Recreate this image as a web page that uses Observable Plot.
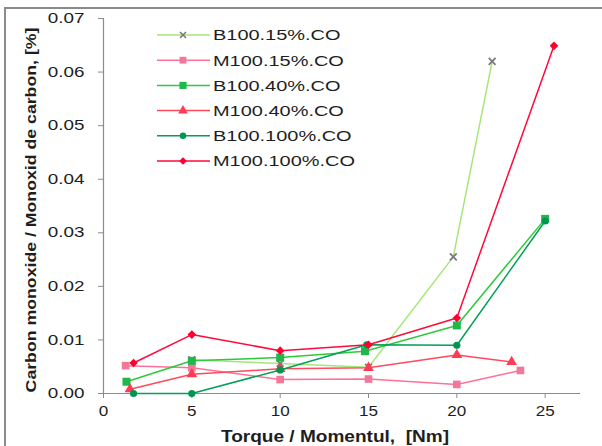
<!DOCTYPE html>
<html><head><meta charset="utf-8">
<script src="https://cdn.jsdelivr.net/npm/d3@7"></script>
<script src="https://cdn.jsdelivr.net/npm/@observablehq/plot@0.6"></script>
<style>
html,body{margin:0;padding:0;background:#fff;overflow:hidden;}
#wrap{position:relative;width:602px;height:446px;overflow:hidden;background:#fff;}
#frame{position:absolute;left:4px;top:7px;width:700px;height:600px;border-top:2.5px solid #8a8a8a;border-left:2.5px solid #8a8a8a;}
#chart{position:absolute;left:0;top:0;}
</style></head><body><div id="wrap"><div id="frame"></div><div id="chart"></div></div>
<script>
const seriesNames = ["B100.15%.CO","M100.15%.CO","B100.40%.CO","M100.40%.CO","B100.100%.CO","M100.100%.CO"];
const torqueB15 = [5, 10, 15, 19.8, 22];
const coB15     = [0.0063, 0.0056, 0.0049, 0.0255, 0.0620];
const torqueM15 = [1.25, 5, 10, 15, 20, 23.6];
const coM15     = [0.0052, 0.0048, 0.0026, 0.0027, 0.0017, 0.0043];
const torqueB40 = [1.3, 5, 10, 14.8, 20, 25];
const coB40     = [0.0022, 0.0061, 0.0067, 0.0079, 0.0127, 0.0326];
const torqueM40 = [1.5, 5, 10, 15, 20, 23.1];
const coM40     = [0.0008, 0.0036, 0.0046, 0.0048, 0.0072, 0.0059];
const torqueB100 = [1.7, 5, 10, 14.9, 20, 25];
const coB100     = [0.0000, 0.0000, 0.0044, 0.0091, 0.0090, 0.0322];
const torqueM100 = [1.7, 5, 10, 15, 20, 25.5];
const coM100     = [0.0057, 0.0110, 0.0080, 0.0091, 0.0141, 0.0649];
const xTicks = [0, 5, 10, 15, 20, 25];
const yTicks = [0, 0.01, 0.02, 0.03, 0.04, 0.05, 0.06, 0.07];
const xTitle = "Torque / Momentul,  [Nm]";
const yTitle = "Carbon monoxide / Monoxid de carbon, [%]";

const seriesX = [torqueB15, torqueM15, torqueB40, torqueM40, torqueB100, torqueM100];
const seriesY = [coB15, coM15, coB40, coM40, coB100, coM100];
const rows = seriesNames.flatMap((s, i) => seriesX[i].map((x, j) => ({series: s, x, y: seriesY[i][j]})));

const styles = {
  "B100.15%.CO":  {line: "#a6e67a", mark: "#7a7a7a", symbol: "times",    r: 3.2},
  "M100.15%.CO":  {line: "#ff7096", mark: "#f2789a", symbol: "square",   r: 4.3},
  "B100.40%.CO":  {line: "#30c93c", mark: "#1fb84a", symbol: "square",   r: 4.5},
  "M100.40%.CO":  {line: "#ff4a5c", mark: "#ff3a55", symbol: "triangle", r: 4.0},
  "B100.100%.CO": {line: "#00a057", mark: "#009650", symbol: "circle",   r: 3.6},
  "M100.100%.CO": {line: "#ff0a3c", mark: "#ff0030", symbol: "diamond2", r: 3.9}
};

const marks = [
  Plot.ruleY([0], {stroke: "#8c8c8c", strokeWidth: 1.2}),
  Plot.ruleX([0], {stroke: "#8c8c8c", strokeWidth: 1.2}),
  Plot.axisX(xTicks, {tickSize: 5, tickPadding: 8, stroke: "#8c8c8c", fontSize: 14, label: null}),
  Plot.axisY(yTicks, {tickSize: 5, tickPadding: 14, stroke: "#8c8c8c", fontSize: 14.5, tickFormat: d3.format(".2f"), label: null})
];
for (const s of seriesNames) {
  const st = styles[s];
  const d = rows.filter(r => r.series === s);
  marks.push(Plot.line(d, {x: "x", y: "y", stroke: st.line, strokeWidth: 1.5}));
  const stroked = st.symbol === "times";
  marks.push(Plot.dot(d, {x: "x", y: "y", symbol: st.symbol, r: st.r,
    fill: stroked ? "none" : st.mark, stroke: stroked ? st.mark : "none", strokeWidth: stroked ? 1.8 : 0}));
}

const chart = Plot.plot({
  width: 602, height: 446,
  marginLeft: 103, marginRight: 22, marginTop: 18, marginBottom: 53,
  style: {fontFamily: "'Liberation Sans', Arial, sans-serif", color: "#1e1e1e", background: "transparent", overflow: "visible"},
  x: {domain: [0, 27]},
  y: {domain: [0, 0.07]},
  marks
});
document.getElementById("chart").appendChild(chart);

function stretch(sel, k) {
  sel.each(function() {
    const len = this.getComputedTextLength();
    if (len > 0) {
      this.setAttribute("textLength", (len * k).toFixed(1));
      this.setAttribute("lengthAdjust", "spacingAndGlyphs");
    }
  });
}
const svg = d3.select(chart);
stretch(svg.selectAll('g[aria-label="x-axis tick label"] text'), 1.22);
stretch(svg.selectAll('g[aria-label="y-axis tick label"] text'), 1.3);

// axis titles
const xt = svg.append("text").attr("x", 335).attr("y", 441.5).attr("text-anchor", "middle")
  .attr("font-weight", "bold").attr("font-size", 16).attr("fill", "#1e1e1e").text(xTitle);
stretch(xt, 1.19);
const yt = svg.append("text").attr("transform", "translate(36,210) rotate(-90)").attr("text-anchor", "middle")
  .attr("font-weight", "bold").attr("font-size", 15).attr("fill", "#1e1e1e").text(yTitle);
stretch(yt, 1.18);

// legend
const lg = svg.append("g").attr("text-anchor", "start");
seriesNames.forEach((s, i) => {
  const st = styles[s];
  const cy = 35 + i * 25.2;
  const g = lg.append("g");
  g.append("line").attr("x1", 157).attr("x2", 210).attr("y1", cy).attr("y2", cy)
    .attr("stroke", st.line).attr("stroke-width", 1.5);
  const sym = {times: d3.symbolTimes, square: d3.symbolSquare, triangle: d3.symbolTriangle,
               circle: d3.symbolCircle, diamond2: d3.symbolDiamond2}[st.symbol];
  const stroked = st.symbol === "times";
  g.append("path").attr("transform", `translate(183,${cy})`)
    .attr("d", d3.symbol(sym, Math.PI * st.r * st.r * 0.8)())
    .attr("fill", stroked ? "none" : st.mark).attr("stroke", stroked ? st.mark : "none")
    .attr("stroke-width", 1.6);
  const t = g.append("text").attr("x", 213).attr("y", cy + 5.4).attr("font-size", 15)
    .attr("text-anchor", "start").attr("fill", "#1e1e1e").text(s);
  stretch(t, 1.33);
});
</script></body></html>
